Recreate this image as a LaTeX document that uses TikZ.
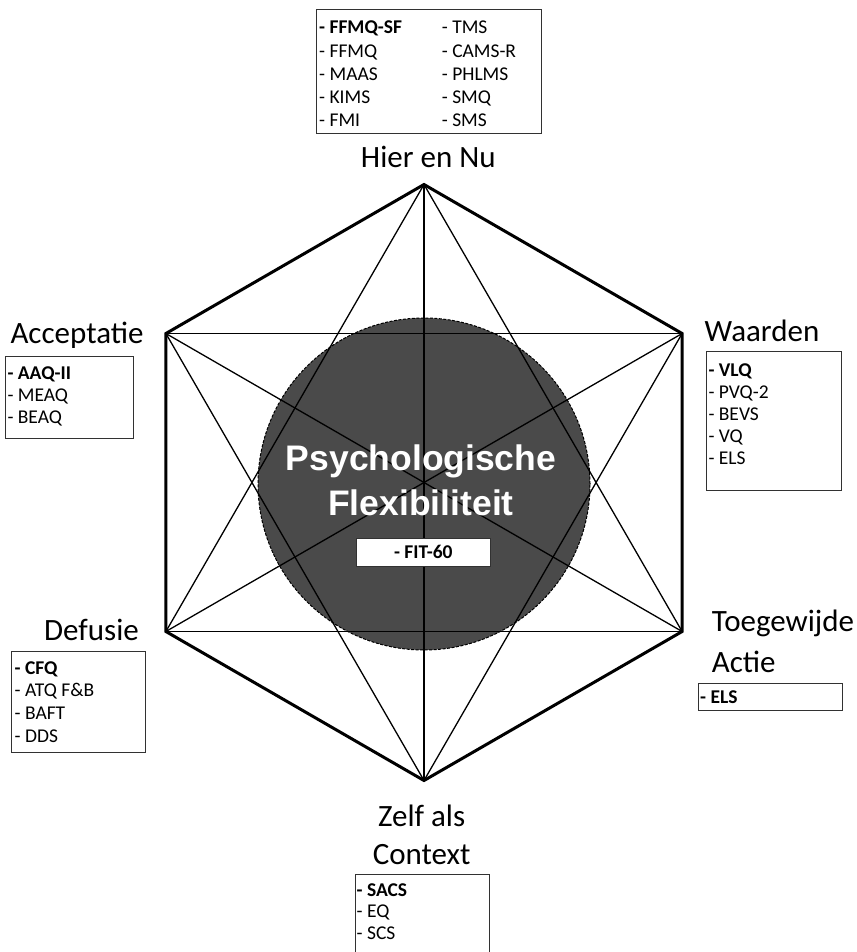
\documentclass[tikz,border=0pt]{standalone}
\usepackage{fontspec}
\setmainfont{Carlito}
\newfontfamily\arialfont{Liberation Sans}
\definecolor{circfill}{RGB}{74,74,74}
\definecolor{boxline}{RGB}{50,50,50}
\begin{document}
\begin{tikzpicture}[x=1pt,y=-1pt,
  lbl/.style={font=\fontsize{31}{36}\selectfont, inner sep=0},
  itm/.style={font=\fontsize{19.5}{22}\selectfont, inner sep=0, anchor=base west},
  lbox/.style={draw=boxline, line width=1pt, inner sep=0, outer sep=0, anchor=north west},
  hexedge/.style={line width=3pt, line join=miter, line cap=round},
  diag/.style={line width=1.3pt},
  ctext/.style={font=\arialfont\bfseries\fontsize{35.5}{40}\selectfont, text=white, inner sep=0, anchor=base}]
\useasboundingbox (0,0) rectangle (856,952);
\clip (0,0) rectangle (856,952);

% hexagon vertices
\coordinate (T) at (424,184.5);
\coordinate (UR) at (682.1,333.5);
\coordinate (LR) at (682.1,631.5);
\coordinate (B) at (424,780.5);
\coordinate (LL) at (165.9,631.5);
\coordinate (UL) at (165.9,333.5);

% central circle
\node[circle, fill=circfill, draw=black, line width=1pt, dash pattern=on 3pt off 1.5pt, minimum size=332pt, inner sep=0] (flex) at (424,484) {};

% diagonals
\draw[diag] (T) -- (B);
\draw[diag] (UR) -- (LL);
\draw[diag] (LR) -- (UL);
\draw[diag] (T) -- (LR);
\draw[diag] (UR) -- (B);
\draw[diag] (LR) -- (LL);
\draw[diag] (B) -- (UL);
\draw[diag] (LL) -- (T);
\draw[diag] (UL) -- (UR);

% hexagon edges
\draw[hexedge] (T) -- (UR) -- (LR) -- (B) -- (LL) -- (UL) -- cycle;

% centre texts
\node[ctext] (psy) at (421,470) {Psychologische};
\node[ctext] (flx) at (421,515) {Flexibiliteit};
\node[lbox, fill=white, minimum width=133.3pt, minimum height=28.7pt] (fitbox) at (356.7,538) {};
\node[itm, anchor=base] (fit) at (423.3,558.3) {\textbf{- FIT-60}};

% labels
\node[lbl, anchor=base] (hier) at (428.3,167.3) {Hier en Nu};
\node[lbl, anchor=base] (acc) at (77,343.3) {Acceptatie};
\node[lbl, anchor=base] (waa) at (762,341.7) {Waarden};
\node[lbl, anchor=base] (def) at (91.5,640) {Defusie};
\node[lbl, anchor=base west] (toe) at (711.7,631.7) {Toegewijde};
\node[lbl, anchor=base west] (act) at (711.7,672.7) {Actie};
\node[lbl, anchor=base] (zelf) at (421.7,826.7) {Zelf als};
\node[lbl, anchor=base] (ctx) at (421.7,864) {Context};

% top box
\node[lbox, minimum width=225.7pt, minimum height=124pt] (bxtop) at (316,10) {};
\foreach \t [count=\i from 0] in {\textbf{- FFMQ-SF}, - FFMQ, - MAAS, - KIMS, - FMI}
  \node[itm] (topa\i) at (319, 34+23.2*\i) {\t};
\foreach \t [count=\i from 0] in {- TMS, - CAMS-R, - PHLMS, - SMQ, - SMS}
  \node[itm] (topb\i) at (441.7, 34+23.2*\i) {\t};

% acceptatie box
\node[lbox, minimum width=128pt, minimum height=81.3pt] (bxacc) at (5,356.7) {};
\foreach \t [count=\i from 0] in {\textbf{- AAQ-II}, - MEAQ, - BEAQ}
  \node[itm] (acc\i) at (7.3, 379.2+22*\i) {\t};

% waarden box
\node[lbox, minimum width=135pt, minimum height=138.3pt] (bxwaa) at (706.7,351.7) {};
\foreach \t [count=\i from 0] in {\textbf{- VLQ}, - PVQ-2, - BEVS, - VQ, - ELS}
  \node[itm] (waa\i) at (708.3, 376.2+22.1*\i) {\t};

% defusie box
\node[lbox, minimum width=134pt, minimum height=101pt] (bxdef) at (11.7,651.7) {};
\foreach \t [count=\i from 0] in {\textbf{- CFQ}, - ATQ F\&B, - BAFT, - DDS}
  \node[itm] (def\i) at (14.5, 674+22.8*\i) {\t};

% toegewijde actie box
\node[lbox, minimum width=144.7pt, minimum height=27pt] (bxtoe) at (698,683) {};
\node[itm] (toe0) at (700, 703.9) {\textbf{- ELS}};

% zelf als context box
\node[lbox, minimum width=134.3pt, minimum height=100pt] (bxzelf) at (355,874) {};
\foreach \t [count=\i from 0] in {\textbf{- SACS}, - EQ, - SCS}
  \node[itm] (zelf\i) at (356.5, 896.2+21.7*\i) {\t};
\end{tikzpicture}
\end{document}
